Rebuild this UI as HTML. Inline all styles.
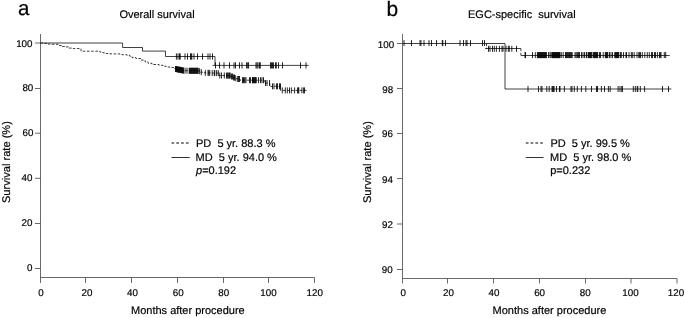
<!DOCTYPE html>
<html><head><meta charset="utf-8"><title>Survival curves</title>
<style>
html,body{margin:0;padding:0;background:#fff;width:685px;height:318px;overflow:hidden}
svg{display:block;will-change:transform;text-rendering:geometricPrecision;font-family:"Liberation Sans", sans-serif;fill:#000}
text{stroke:#000;stroke-width:0.18px}
</style></head><body>
<svg width="685" height="318" viewBox="0 0 685 318">
<path d="M40.5 34V283M40.5 277.5H314.5M35 43H40.5M35 88.5H40.5M35 133.2H40.5M35 178.3H40.5M35 223.5H40.5M35 268.5H40.5M85.5 277.5V283M131.5 277.5V283M177.5 277.5V283M223.5 277.5V283M268.5 277.5V283M314.5 277.5V283" stroke="#444" stroke-width="0.8" fill="none"/>
<text x="32.5" y="46.6" font-size="9.8" text-anchor="end">100</text>
<text x="33.3" y="91.2" font-size="9.8" text-anchor="end">80</text>
<text x="33.4" y="135.7" font-size="9.8" text-anchor="end">60</text>
<text x="32.5" y="181.2" font-size="9.8" text-anchor="end">40</text>
<text x="32.5" y="225.9" font-size="9.8" text-anchor="end">20</text>
<text x="32.5" y="270.7" font-size="9.8" text-anchor="end">0</text>
<text x="41.1" y="295.8" font-size="9.8" text-anchor="middle">0</text>
<text x="86.9" y="295.8" font-size="9.8" text-anchor="middle">20</text>
<text x="132.5" y="295.8" font-size="9.8" text-anchor="middle">40</text>
<text x="178.3" y="295.8" font-size="9.8" text-anchor="middle">60</text>
<text x="223.8" y="295.8" font-size="9.8" text-anchor="middle">80</text>
<text x="268.5" y="295.8" font-size="9.8" text-anchor="middle">100</text>
<text x="314.7" y="295.8" font-size="9.8" text-anchor="middle">120</text>
<path d="M40.5 43H122.6V47.5H142.5V51.1H165.5V56.5H215V65.4H308.8M212.6 65.4H215" stroke="#000" stroke-width="0.75" fill="none"/>
<path d="M176.4 53.4V59.6M178 53.4V59.6M179.5 53.4V59.6M180.2 53.4V59.6M185 53.4V59.6M187.5 53.4V59.6M190.5 53.4V59.6M191.2 53.4V59.6M191.8 53.4V59.6M194 53.4V59.6M197.5 53.4V59.6M202.5 53.4V59.6M208 53.4V59.6M210 53.4V59.6M212.5 53.4V59.6M215.5 62.3V68.5M219.5 62.3V68.5M224 62.3V68.5M229.5 62.3V68.5M234 62.3V68.5M235.5 62.3V68.5M239.5 62.3V68.5M242 62.3V68.5M246.5 62.3V68.5M247.7 62.3V68.5M248.5 62.3V68.5M256 62.3V68.5M257 62.3V68.5M258 62.3V68.5M259.5 62.3V68.5M260.3 62.3V68.5M270.5 62.3V68.5M271.5 62.3V68.5M272.5 62.3V68.5M273.5 62.3V68.5M275.5 62.3V68.5M276.3 62.3V68.5M278.5 62.3V68.5M282.5 62.3V68.5M300.5 62.3V68.5M306 62.3V68.5" stroke="#000" stroke-width="0.85" fill="none"/>
<path d="M40.5 43H44V43.3H47V44H50V44.3H58V45.5H62V46.5H66V46.9H68.5V48.1H73V48.6H81V51.2H100V52.1H103V52.8H106V53.5H110V53.9H120V54.4H122V54.7H127V55.4H130V56.6H132V57.6H136V58.5H141V60.1H145V61.7H148V63.3H152V64.5H159V65.3H163V66.2H166V67H170V67.4H174V68.6H175V69H176.5V69.4H178V69.7H180V70.1H182V70.5H183.8V70.7H188.7V70.8H199V71.2H200.5V72.2H203V72.9H211V73.1H219V75.5H225.5V75.6H230.5V76.5H232.5V77.5H234.5V78.2H236.5V79H240V80.2H264.2V83H269.6V86.3H280.6V90.4H307.3" stroke="#000" stroke-width="0.75" stroke-dasharray="2.6 1.6" fill="none"/>
<path d="M175.5 66V72M176 66V72M176.5 66V72M177 66.4V72.4M177.5 66.4V72.4M178 66.4V72.4M178.5 66.7V72.7M179 66.7V72.7M179.5 66.7V72.7M180 66.7V72.7M180.5 67.1V73.1M181 67.1V73.1M181.5 67.1V73.1M182 67.1V73.1M182.5 67.5V73.5M183 67.5V73.5M183.5 67.5V73.5M185 67.7V73.7M187 67.7V73.7M189.2 67.8V73.8M189.7 67.8V73.8M190.2 67.8V73.8M190.7 67.8V73.8M191.2 67.8V73.8M191.7 67.8V73.8M192.2 67.8V73.8M192.7 67.8V73.8M193.2 67.8V73.8M193.7 67.8V73.8M194.2 67.8V73.8M194.7 67.8V73.8M195.2 67.8V73.8M195.7 67.8V73.8M196.2 67.8V73.8M196.7 67.8V73.8M197.2 67.8V73.8M197.7 67.8V73.8M198.2 67.8V73.8M199.6 68.2V74.2M201.3 69.2V75.2M205.3 69.9V75.9M208 69.9V75.9M208.8 69.9V75.9M209.7 69.9V75.9M212.2 70.1V76.1M214.3 70.1V76.1M214.8 70.1V76.1M216.6 70.1V76.1M218.3 70.1V76.1M219.8 72.5V78.5M221.5 72.5V78.5M224.3 72.5V78.5M226.5 72.6V78.6M227.3 72.6V78.6M228 72.6V78.6M228.8 72.6V78.6M229.5 72.6V78.6M230.2 72.6V78.6M231.5 73.5V79.5M232.5 73.5V79.5M233.5 74.5V80.5M234.5 74.5V80.5M235.3 75.2V81.2M237.3 76V82M238.5 76V82M239.5 76V82M242.5 77.2V83.2M243.5 77.2V83.2M244.2 77.2V83.2M245 77.2V83.2M246 77.2V83.2M249.5 77.2V83.2M250.5 77.2V83.2M252.5 77.2V83.2M252.7 77.2V83.2M253.2 77.2V83.2M253.7 77.2V83.2M254.2 77.2V83.2M254.7 77.2V83.2M255.2 77.2V83.2M255.7 77.2V83.2M256.2 77.2V83.2M258.5 77.2V83.2M260.5 77.2V83.2M262 77.2V83.2M263.5 77.2V83.2M265.5 80V86M267 80V86M269.6 80V86M272.5 83.3V89.3M274 83.3V89.3M276.5 83.3V89.3M277.5 83.3V89.3M279.5 83.3V89.3M280.5 83.3V89.3M282.3 87.4V93.4M285.3 87.4V93.4M287.3 87.4V93.4M289.5 87.4V93.4M291.3 87.4V93.4M294.6 87.4V93.4M297.6 87.4V93.4M298.3 87.4V93.4M298.8 87.4V93.4M301.9 87.4V93.4M303.6 87.4V93.4M304.5 87.4V93.4" stroke="#000" stroke-width="0.85" fill="none"/>
<path d="M171.5 143H189.8" stroke="#000" stroke-width="1" stroke-dasharray="2.7 2.1" fill="none"/>
<path d="M171.5 157.5H189.8" stroke="#333" stroke-width="1" fill="none"/>
<text x="196" y="146.8" font-size="11" xml:space="preserve">PD  5 yr. 88.3 %</text>
<text x="195.6" y="161" font-size="11" xml:space="preserve">MD  5 yr. 94.0 %</text>
<text x="196" y="173.9" font-size="11"><tspan font-style="italic">p</tspan>=0.192</text>
<text x="18.0" y="15" font-size="20.5">a</text>
<text x="119.4" y="17.7" font-size="11">Overall survival</text>
<text x="131" y="314" font-size="11">Months after procedure</text>
<text transform="translate(9.7 203.1) rotate(-90)" font-size="11.1">Survival rate (%)</text>
<path d="M402.5 34V283.5M402.5 278.5H677M397 43.5H402.5M397 88.5H402.5M397 133.5H402.5M397 178.5H402.5M397 224H402.5M397 269.5H402.5M447.5 278.5V283.5M493.5 278.5V283.5M539.5 278.5V283.5M585.5 278.5V283.5M631 278.5V283.5M677 278.5V283.5" stroke="#444" stroke-width="0.8" fill="none"/>
<text x="394.1" y="48" font-size="9.8" text-anchor="end">100</text>
<text x="393.2" y="92.8" font-size="9.8" text-anchor="end">98</text>
<text x="393" y="136.8" font-size="9.8" text-anchor="end">96</text>
<text x="393" y="182.6" font-size="9.8" text-anchor="end">94</text>
<text x="393" y="227.6" font-size="9.8" text-anchor="end">92</text>
<text x="392.7" y="273.3" font-size="9.8" text-anchor="end">90</text>
<text x="403.2" y="295.8" font-size="9.8" text-anchor="middle">0</text>
<text x="448.5" y="295.8" font-size="9.8" text-anchor="middle">20</text>
<text x="494" y="295.8" font-size="9.8" text-anchor="middle">40</text>
<text x="539.6" y="295.8" font-size="9.8" text-anchor="middle">60</text>
<text x="585.2" y="295.8" font-size="9.8" text-anchor="middle">80</text>
<text x="630.5" y="295.8" font-size="9.8" text-anchor="middle">100</text>
<text x="676" y="295.8" font-size="9.8" text-anchor="middle">120</text>
<path d="M402.5 43.5H505V89H671.4" stroke="#000" stroke-width="0.75" fill="none"/>
<path d="M404 40.1V46.1M411.5 40.1V46.1M420 40.1V46.1M421 40.1V46.1M424 40.1V46.1M429 40.1V46.1M431.5 40.1V46.1M436.5 40.1V46.1M442.3 40.1V46.1M442.8 40.1V46.1M445.5 40.1V46.1M460 40.1V46.1M463.5 40.1V46.1M466 40.1V46.1M467 40.1V46.1M470.5 40.1V46.1M482.5 40.1V46.1M484.5 40.1V46.1M528 86V92M538.5 86V92M541 86V92M542 86V92M546.8 86V92M549.2 86V92M552 86V92M552.7 86V92M553.4 86V92M554.1 86V92M556.5 86V92M559.5 86V92M560 86V92M564.4 86V92M571 86V92M572 86V92M574.3 86V92M577.3 86V92M581.4 86V92M585.8 86V92M591.5 86V92M596.5 86V92M597.5 86V92M601.4 86V92M604.5 86V92M608.4 86V92M610.2 86V92M618.1 86V92M620 86V92M621.8 86V92M622.4 86V92M633.3 86V92M635.3 86V92M637.2 86V92M637.8 86V92M640.3 86V92M644.6 86V92M662.5 86V92M668.5 86V92" stroke="#000" stroke-width="0.85" fill="none"/>
<path d="M486.5 43.5V48.5M520.9 48.5V55.5" stroke="#000" stroke-width="0.75" stroke-dasharray="2.6 1.6" fill="none"/>
<path d="M485.1 48.5H520.9M520.9 55.5H669.7" stroke="#000" stroke-width="0.75" fill="none"/>
<path d="M488.5 45.8V51.8M490 45.8V51.8M492.5 45.8V51.8M494.3 45.8V51.8M496.4 45.8V51.8M499.4 45.8V51.8M502 45.8V51.8M503 45.8V51.8M506 45.8V51.8M508.3 45.8V51.8M509.3 45.8V51.8M511.8 45.8V51.8M516.5 45.8V51.8M525 52.1V58.1M525.5 52.1V58.1M532.5 52.1V58.1M535.3 52.1V58.1M537.4 52.1V58.1M537.9 52.1V58.1M538.4 52.1V58.1M538.9 52.1V58.1M539.4 52.1V58.1M539.9 52.1V58.1M540.4 52.1V58.1M540.9 52.1V58.1M541.4 52.1V58.1M541.9 52.1V58.1M542.4 52.1V58.1M542.9 52.1V58.1M543.4 52.1V58.1M543.9 52.1V58.1M544.4 52.1V58.1M544.9 52.1V58.1M545.4 52.1V58.1M545.9 52.1V58.1M546.4 52.1V58.1M548.5 52.1V58.1M550 52.1V58.1M551 52.1V58.1M552 52.1V58.1M552.5 52.1V58.1M553 52.1V58.1M553.5 52.1V58.1M554 52.1V58.1M554.5 52.1V58.1M555 52.1V58.1M555.5 52.1V58.1M556 52.1V58.1M556.5 52.1V58.1M557 52.1V58.1M557.5 52.1V58.1M558 52.1V58.1M558.5 52.1V58.1M559 52.1V58.1M559.5 52.1V58.1M560 52.1V58.1M561.3 52.1V58.1M563.2 52.1V58.1M565.5 52.1V58.1M566.1 52.1V58.1M566.7 52.1V58.1M567.3 52.1V58.1M568 52.1V58.1M568.7 52.1V58.1M569.4 52.1V58.1M570 52.1V58.1M570.7 52.1V58.1M571.4 52.1V58.1M572.2 52.1V58.1M575 52.1V58.1M576 52.1V58.1M577 52.1V58.1M577.8 52.1V58.1M578.6 52.1V58.1M579.5 52.1V58.1M581.5 52.1V58.1M583 52.1V58.1M584.5 52.1V58.1M586.3 52.1V58.1M586.7 52.1V58.1M588.2 52.1V58.1M588.7 52.1V58.1M589.2 52.1V58.1M589.7 52.1V58.1M590.2 52.1V58.1M590.7 52.1V58.1M591.2 52.1V58.1M591.7 52.1V58.1M593.2 52.1V58.1M593.7 52.1V58.1M594.2 52.1V58.1M594.7 52.1V58.1M595.2 52.1V58.1M595.7 52.1V58.1M596.2 52.1V58.1M596.7 52.1V58.1M597.2 52.1V58.1M597.7 52.1V58.1M599.5 52.1V58.1M600.5 52.1V58.1M603.2 52.1V58.1M605.3 52.1V58.1M605.8 52.1V58.1M606.3 52.1V58.1M606.8 52.1V58.1M607.3 52.1V58.1M607.8 52.1V58.1M609.5 52.1V58.1M611 52.1V58.1M612.5 52.1V58.1M614.8 52.1V58.1M615.3 52.1V58.1M615.8 52.1V58.1M616.3 52.1V58.1M616.8 52.1V58.1M617.3 52.1V58.1M617.8 52.1V58.1M618.3 52.1V58.1M618.8 52.1V58.1M620.5 52.1V58.1M621.3 52.1V58.1M623.5 52.1V58.1M626 52.1V58.1M626.5 52.1V58.1M629 52.1V58.1M631.3 52.1V58.1M632.3 52.1V58.1M634.2 52.1V58.1M637 52.1V58.1M638.8 52.1V58.1M639.6 52.1V58.1M640.5 52.1V58.1M642.3 52.1V58.1M644.8 52.1V58.1M647.3 52.1V58.1M649.3 52.1V58.1M651.5 52.1V58.1M652.5 52.1V58.1M654.5 52.1V58.1M655.5 52.1V58.1M657.4 52.1V58.1M659.5 52.1V58.1M660.3 52.1V58.1M661 52.1V58.1M664.3 52.1V58.1M665.7 52.1V58.1" stroke="#000" stroke-width="0.85" fill="none"/>
<path d="M525.8 143H543.5" stroke="#000" stroke-width="1" stroke-dasharray="2.7 2.1" fill="none"/>
<path d="M525.8 157.5H543.5" stroke="#333" stroke-width="1" fill="none"/>
<text x="550.4" y="146.9" font-size="11" xml:space="preserve">PD  5 yr. 99.5 %</text>
<text x="550" y="161" font-size="11" xml:space="preserve">MD  5 yr. 98.0 %</text>
<text x="550.2" y="174" font-size="11">p=0.232</text>
<text x="386.4" y="16.2" font-size="21">b</text>
<text x="468" y="17.6" font-size="11" xml:space="preserve">EGC-specific  survival</text>
<text x="492.6" y="314.4" font-size="11">Months after procedure</text>
<text transform="translate(371.1 203.1) rotate(-90)" font-size="11.1">Survival rate (%)</text>
</svg>
</body></html>
